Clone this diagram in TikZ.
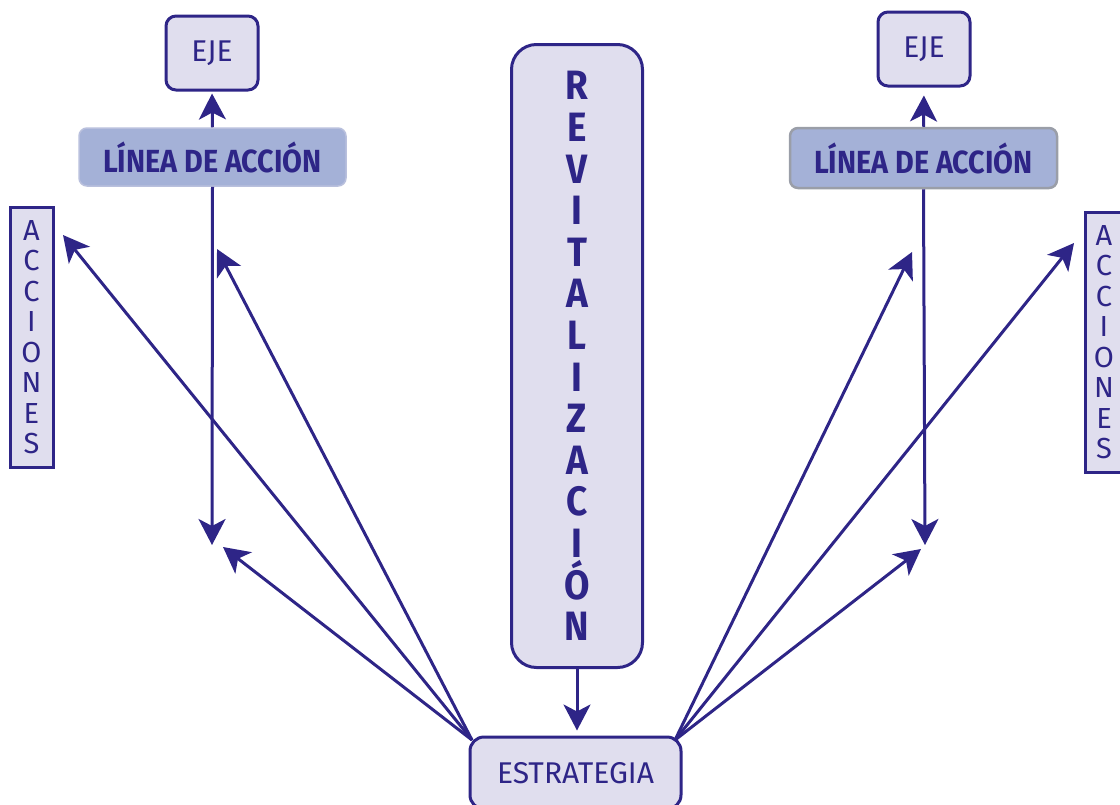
\documentclass[tikz,border=0pt]{standalone}
\usepackage{fontspec}
\setmainfont{Fira Sans}
\newfontfamily\condfont{Fira Sans}[FakeStretch=0.9]
\usetikzlibrary{arrows.meta}
\definecolor{ink}{HTML}{2E2587}
\definecolor{lav}{HTML}{E0DEEE}
\definecolor{blu}{HTML}{A4B1D7}
\definecolor{bordL}{HTML}{B9C0DD}
\definecolor{bordR}{HTML}{9A9EA8}
\tikzset{
  softbox/.style={draw=ink, fill=lav, line width=3pt, inner sep=0pt, text=ink, align=center},
  ejebox/.style={softbox, rounded corners=10pt, minimum width=92pt, minimum height=74pt, font=\fontsize{30}{32}\selectfont},
  lineabox/.style={fill=blu, rounded corners=8pt, minimum width=267pt, inner sep=0pt, text=ink, font=\condfont\bfseries\fontsize{32}{34}\selectfont},
  accbox/.style={softbox, minimum width=43pt, minimum height=260pt, font=\fontsize{29}{30.5}\selectfont},
  conn/.style={draw=ink, line width=3pt, -{Stealth[length=26pt,width=27pt,inset=7pt]}},
}
\begin{document}
\begin{tikzpicture}[x=1pt,y=-1pt]
\useasboundingbox (0,0) rectangle (1120,804);
\begin{scope}
\clip (0,0) rectangle (1120,804);
% boxes
\node[ejebox] (ejeL) at (212,53) {EJE};
\node[ejebox] (ejeR) at (924,49) {EJE};
\node[lineabox, draw=bordL, line width=1.5pt, minimum height=58pt] (lineaL) at (212.5,157) {LÍNEA DE ACCIÓN};
\node[lineabox, draw=bordR, line width=2.5pt, minimum height=60pt] (lineaR) at (923.5,158) {LÍNEA DE ACCIÓN};
\node[accbox] (accL) at (31.5,337) {A\\C\\C\\I\\O\\N\\E\\S};
\node[accbox, minimum width=38pt] (accR) at (1104,342) {A\\C\\C\\I\\O\\N\\E\\S};
\node[softbox, rounded corners=25pt, minimum width=131pt, minimum height=623pt,
      font=\condfont\bfseries\fontsize{41}{41.6}\selectfont] (rev) at (577,356)
      {R\\E\\V\\I\\T\\A\\L\\I\\Z\\A\\C\\I\\Ó\\N};
\node[softbox, rounded corners=14pt, minimum width=211pt, minimum height=72pt,
      font=\fontsize{30}{32}\selectfont] (estr) at (575.5,773) {ESTRATEGIA};
% free ends
\coordinate (sL) at (472,740);
\coordinate (sR) at (675,740);
\coordinate (dL) at (212,545);
\coordinate (dR) at (925,545);
\coordinate (tL1) at (63,235);
\coordinate (tL2) at (217,249);
\coordinate (tL3) at (223,547);
\coordinate (tR1) at (1074,243);
\coordinate (tR2) at (912,252);
\coordinate (tR3) at (921,549);
% connectors
\draw[conn, shorten >=2pt] (lineaL.north) -- (ejeL.south);
\draw[conn, shorten >=8pt] (lineaR.north) -- (ejeR.south);
\draw[conn] (lineaL.south) -- (dL);
\draw[conn] (lineaR.south) -- (dR);
\draw[conn, shorten >=5pt] (rev.south) -- (rev.south |- estr.north);
\draw[conn] (sL) -- (tL1);
\draw[conn] (sL) -- (tL2);
\draw[conn] (sL) -- (tL3);
\draw[conn] (sR) -- (tR1);
\draw[conn] (sR) -- (tR2);
\draw[conn] (sR) -- (tR3);
\end{scope}
\end{tikzpicture}
\end{document}
